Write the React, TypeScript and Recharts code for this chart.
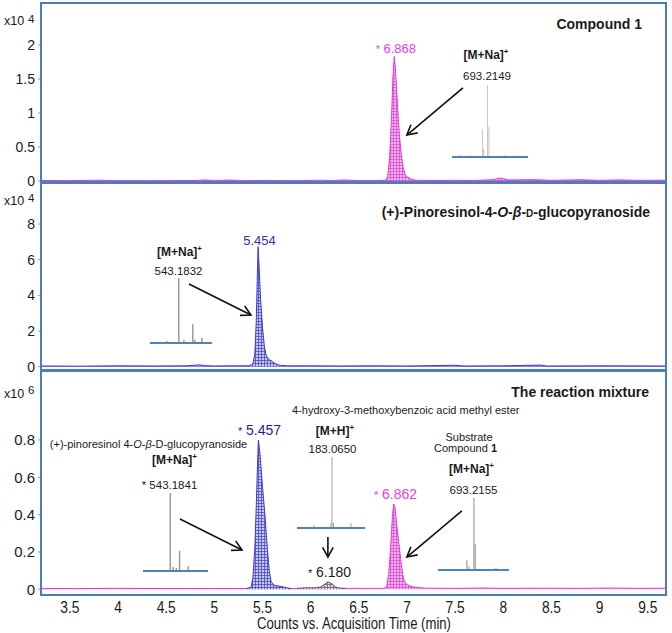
import React from 'react';
import { AreaChart, Area, XAxis, YAxis, ReferenceLine, BarChart, Bar } from 'recharts';

const FONT = "'Liberation Sans', Arial, Helvetica, sans-serif";
const INK = '#1a1a1a';
const PINK = '#e03cd6';
const BLUE = '#3c3cc4';
const FRAME = '#4a7ebb';

const timeDomain: [number, number] = [3.2, 9.7];
const timeTicks = [3.5, 4, 4.5, 5, 5.5, 6, 6.5, 7, 7.5, 8, 8.5, 9, 9.5];

// Panel 1: Compound 1 (x10^4 counts)
const cmp1Time = [3.2, 3.5, 3.85, 3.9, 4.3, 4.8, 4.9, 5.0, 5.15, 5.3, 5.6, 5.9, 6.1, 6.2, 6.35, 6.5, 6.7,
  6.78, 6.8, 6.82, 6.84, 6.855, 6.868, 6.88, 6.9, 6.92, 6.94, 6.96, 6.98, 7.0, 7.03, 7.06, 7.1,
  7.3, 7.5, 7.7, 7.9, 7.97, 8.05, 8.3, 8.5, 8.8, 9.0, 9.2, 9.4, 9.7];
const cmp1Counts = [0.008, 0.006, 0.012, 0.006, 0.005, 0.008, 0.015, 0.008, 0.014, 0.006, 0.008, 0.005, 0.012, 0.006, 0.015, 0.006, 0.006,
  0.012, 0.06, 0.35, 0.95, 1.55, 1.83, 1.65, 1.15, 0.7, 0.4, 0.2, 0.1, 0.06, 0.04, 0.02, 0.01,
  0.008, 0.01, 0.008, 0.02, 0.045, 0.015, 0.02, 0.01, 0.018, 0.01, 0.016, 0.01, 0.012];
const panel1Ticks = [0, 0.5, 1, 1.5, 2];

// Panel 2: (+)-Pinoresinol-4-O-beta-D-glucopyranoside (x10^4 counts)
const pinoTime = [3.2, 3.6, 4.0, 4.4, 4.7, 4.85, 4.9, 5.0, 5.2, 5.36, 5.4, 5.42, 5.435, 5.445, 5.454, 5.465, 5.48, 5.5,
  5.52, 5.54, 5.57, 5.6, 5.64, 5.68, 5.75, 6.0, 6.3, 6.6, 7.0, 7.5, 7.6, 8.0, 8.38, 8.45, 9.0, 9.7];
const pinoCounts = [0.04, 0.03, 0.05, 0.04, 0.05, 0.1, 0.06, 0.04, 0.05, 0.05, 0.15, 0.7, 2.5, 4.8, 6.73, 5.6, 3.8, 2.2,
  1.1, 0.6, 0.4, 0.3, 0.15, 0.08, 0.05, 0.05, 0.04, 0.05, 0.04, 0.08, 0.04, 0.05, 0.09, 0.04, 0.05, 0.04];
const panel2Ticks = [0, 2, 4, 6, 8];

// Panel 3: reaction mixture (x10^6 counts)
const mixPinkTime = [3.2, 3.6, 4.0, 4.5, 5.0, 5.5, 6.0, 6.5, 6.76, 6.79, 6.81, 6.83, 6.85, 6.862, 6.875, 6.895, 6.915,
  6.935, 6.955, 6.975, 7.0, 7.05, 7.1, 7.2, 7.5, 7.8, 8.0, 8.4, 8.8, 9.1, 9.4, 9.7];
const mixPinkCounts = [0.004, 0.004, 0.005, 0.004, 0.004, 0.004, 0.004, 0.005, 0.005, 0.015, 0.08, 0.22, 0.4, 0.457, 0.44, 0.34, 0.25,
  0.16, 0.08, 0.04, 0.025, 0.015, 0.01, 0.006, 0.005, 0.007, 0.005, 0.006, 0.005, 0.007, 0.005, 0.006];
const mixBlueTime = [5.33, 5.38, 5.4, 5.42, 5.435, 5.447, 5.457, 5.475, 5.5, 5.525, 5.55, 5.57, 5.59, 5.62, 5.68, 5.74, 5.8];
const mixBlueCounts = [0.004, 0.01, 0.06, 0.22, 0.44, 0.65, 0.8, 0.72, 0.55, 0.4, 0.22, 0.1, 0.04, 0.022, 0.016, 0.01, 0.003];
const mixGrayTime = [5.86, 5.95, 6.05, 6.1, 6.14, 6.18, 6.22, 6.26, 6.3, 6.36];
const mixGrayCounts = [0.006, 0.008, 0.008, 0.012, 0.025, 0.04, 0.03, 0.012, 0.007, 0.005];
const panel3Ticks = [0, 0.2, 0.4, 0.6, 0.8];

// Inset mass spectra: relative m/z position (0-100) and relative intensity (0-100)
const ms1Pos = [10.5, 23.7, 40.4, 41.2, 47.0, 48.7, 69.7, 83.0];
const ms1Int = [3, 3, 39, 11, 100, 42, 3, 3];
const ms2Pos = [27.4, 46.8, 55.0, 69.4, 72.6, 83.9];
const ms2Int = [3, 100, 5, 29, 5, 8];
const ms3Pos = [41.5, 46.0, 50.8, 55.8, 69.2];
const ms3Int = [100, 5, 4, 26, 6];
const ms4Pos = [25.0, 50.0, 51.5, 53.7, 79.4];
const ms4Int = [4, 7, 100, 7, 7];
const ms5Pos = [40.8, 43.7, 50.7, 52.5, 81.7];
const ms5Int = [14, 5, 100, 36, 3];

const series = (t: number[], v: number[]) => t.map((x, i) => ({ t: x, v: v[i] }));
const cmp1Data = series(cmp1Time, cmp1Counts);
const pinoData = series(pinoTime, pinoCounts);
const mixPinkData = series(mixPinkTime, mixPinkCounts);
const mixBlueData = series(mixBlueTime, mixBlueCounts);
const mixGrayData = series(mixGrayTime, mixGrayCounts);

const ArrowShape = (props: any) => {
  const { x1, y1, x2, y2 } = props;
  if ([x1, y1, x2, y2].some((n) => typeof n !== 'number' || isNaN(n))) return <g />;
  const ang = Math.atan2(y2 - y1, x2 - x1);
  const L = 11;
  const a = 0.5;
  const ax = x2 - L * Math.cos(ang - a);
  const ay = y2 - L * Math.sin(ang - a);
  const bx = x2 - L * Math.cos(ang + a);
  const by = y2 - L * Math.sin(ang + a);
  return (
    <g>
      <line x1={x1} y1={y1} x2={x2} y2={y2} stroke="#111" strokeWidth={1.6} />
      <polyline points={`${ax},${ay} ${x2},${y2} ${bx},${by}`} fill="none" stroke="#111" strokeWidth={1.6} />
    </g>
  );
};

const NarrowTick = (props: any) => {
  const { x, y, payload } = props;
  return (
    <text transform={`translate(${x},${y}) scale(0.86,1)`} textAnchor="middle" dy="0.71em"
      fontSize={16} fill={INK} fontFamily={FONT}>
      {payload.value}
    </text>
  );
};

const Patterns = ({ id }: { id: string }) => (
  <defs>
    <pattern id={`pink-${id}`} width={3} height={3} patternUnits="userSpaceOnUse">
      <rect width={3} height={3} fill="#f8b8ef" />
      <path d="M0 0.5H3M0.5 0V3" stroke="#e04ad6" strokeWidth={0.8} />
    </pattern>
    <pattern id={`blue-${id}`} width={3} height={3} patternUnits="userSpaceOnUse">
      <rect width={3} height={3} fill="#c8c8f4" />
      <path d="M0 0.5H3M0.5 0V3" stroke="#4a4ac8" strokeWidth={0.8} />
    </pattern>
    <pattern id={`gray-${id}`} width={3} height={3} patternUnits="userSpaceOnUse">
      <rect width={3} height={3} fill="#ddd4dd" />
      <path d="M0 0.5H3M0.5 0V3" stroke="#7a5a7a" strokeWidth={0.8} />
    </pattern>
  </defs>
);

const yAxisProps = (domain: [number, number], ticks: number[], fs: number) => ({
  type: 'number' as const,
  domain,
  ticks,
  allowDataOverflow: true,
  width: 41,
  tickSize: 3,
  tickMargin: 3,
  axisLine: false,
  tickLine: { stroke: '#999' },
  interval: 0 as const,
  tick: { fontSize: fs, fill: INK, fontFamily: FONT },
});

const Inset = ({ left, width, base, tall, pos, inten }: any) => {
  const data = pos.map((p: number, i: number) => ({ p, v: inten[i] }));
  return (
    <div style={{ position: 'absolute', left, top: base - tall, width, height: tall + 2 }}>
      <BarChart width={width} height={tall + 2} data={data} margin={{ top: 0, right: 0, bottom: 0, left: 0 }}>
        <XAxis type="number" dataKey="p" domain={[0, 100]} height={2} tick={false} tickLine={false}
          axisLine={{ stroke: '#4f81bd', strokeWidth: 2 }} />
        <YAxis hide domain={[0, 100]} />
        <Bar dataKey="v" fill="#9a9a9a" barSize={1.5} isAnimationActive={false} />
      </BarChart>
    </div>
  );
};

const Sup = ({ children, dy = -5 }: any) => (
  <tspan dy={dy} fontSize={8}>{children}</tspan>
);

export default function App() {
  return (
    <div style={{ position: 'absolute', left: 0, top: 0, width: 672, height: 633, background: '#fff', fontFamily: FONT }}>
      {/* Panel 1 */}
      <div style={{ position: 'absolute', left: 0, top: 0 }}>
        <AreaChart width={672} height={194} margin={{ top: 3, right: 5, bottom: 12, left: 0 }}>
          <Patterns id="a" />
          <XAxis type="number" dataKey="t" domain={timeDomain} allowDataOverflow hide />
          <YAxis {...yAxisProps([-1 / 68, 178 / 68], panel1Ticks, 14)} />
          <Area data={cmp1Data} dataKey="v" type="linear" stroke={PINK} strokeWidth={1} fill="url(#pink-a)"
            fillOpacity={1} isAnimationActive={false} dot={false} activeDot={false} />
          <ReferenceLine segment={[{ x: 7.581, y: 1.368 }, { x: 6.999, y: 0.676 }]} shape={ArrowShape} ifOverflow="visible" />
        </AreaChart>
      </div>
      {/* Panel 2 */}
      <div style={{ position: 'absolute', left: 0, top: 180 }}>
        <AreaChart width={672} height={202} margin={{ top: 3, right: 5, bottom: 12, left: 0 }}>
          <Patterns id="b" />
          <XAxis type="number" dataKey="t" domain={timeDomain} allowDataOverflow hide />
          <YAxis {...yAxisProps([-0.185, 10.297], panel2Ticks, 14)} />
          <Area data={pinoData} dataKey="v" type="linear" stroke={BLUE} strokeWidth={1} fill="url(#blue-b)"
            fillOpacity={1} isAnimationActive={false} dot={false} activeDot={false} />
          <ReferenceLine segment={[{ x: 4.736, y: 4.636 }, { x: 5.38, y: 2.898 }]} shape={ArrowShape} ifOverflow="visible" />
        </AreaChart>
      </div>
      {/* Panel 3 */}
      <div style={{ position: 'absolute', left: 0, top: 368 }}>
        <AreaChart width={672} height={265} margin={{ top: 3, right: 5, bottom: 0, left: 0 }}>
          <Patterns id="c" />
          <XAxis type="number" dataKey="t" domain={timeDomain} ticks={timeTicks} allowDataOverflow interval={0}
            height={38} axisLine={false} tickLine={false} tickSize={6} tickMargin={1}
            tick={<NarrowTick />} />
          <YAxis {...yAxisProps([-0.0305, 1.1699], panel3Ticks, 15)} />
          <Area data={mixPinkData} dataKey="v" type="linear" stroke={PINK} strokeWidth={1} fill="url(#pink-c)"
            fillOpacity={1} isAnimationActive={false} dot={false} activeDot={false} />
          <Area data={mixGrayData} dataKey="v" type="linear" stroke="#6a4a6a" strokeWidth={1} fill="url(#gray-c)"
            fillOpacity={1} isAnimationActive={false} dot={false} activeDot={false} />
          <Area data={mixBlueData} dataKey="v" type="linear" stroke={BLUE} strokeWidth={1} fill="url(#blue-c)"
            fillOpacity={1} isAnimationActive={false} dot={false} activeDot={false} />
          <ReferenceLine segment={[{ x: 4.643, y: 0.377 }, { x: 5.287, y: 0.211 }]} shape={ArrowShape} ifOverflow="visible" />
          <ReferenceLine segment={[{ x: 6.179, y: 0.28 }, { x: 6.179, y: 0.173 }]} shape={ArrowShape} ifOverflow="visible" />
          <ReferenceLine segment={[{ x: 7.57, y: 0.42 }, { x: 6.999, y: 0.173 }]} shape={ArrowShape} ifOverflow="visible" />
        </AreaChart>
      </div>

      {/* Inset mass spectra */}
      <Inset left={452} width={76} base={157} tall={72} pos={ms1Pos} inten={ms1Int} />
      <Inset left={150} width={62} base={343} tall={65} pos={ms2Pos} inten={ms2Int} />
      <Inset left={143} width={65} base={571} tall={78} pos={ms3Pos} inten={ms3Int} />
      <Inset left={297} width={68} base={528} tall={71} pos={ms4Pos} inten={ms4Int} />
      <Inset left={438} width={71} base={570} tall={72} pos={ms5Pos} inten={ms5Int} />

      {/* Panel frames */}
      <div style={{ position: 'absolute', left: 40, top: 2, width: 627, height: 181, border: `2px solid ${FRAME}`, boxSizing: 'border-box' }} />
      <div style={{ position: 'absolute', left: 40, top: 182, width: 627, height: 189, border: `2px solid ${FRAME}`, boxSizing: 'border-box' }} />
      <div style={{ position: 'absolute', left: 40, top: 370, width: 627, height: 226, border: `2px solid ${FRAME}`, boxSizing: 'border-box' }} />

      {/* Annotations */}
      <svg width={672} height={633} style={{ position: 'absolute', left: 0, top: 0, pointerEvents: 'none' }}
        fontFamily={FONT} fill={INK}>
        {/* exponents */}
        <text x={4} y={25} fontSize={12.5}>x10</text>
        <text x={28} y={22.7} fontSize={11.5}>4</text>
        <text x={4} y={205} fontSize={12.5}>x10</text>
        <text x={28} y={202} fontSize={11.5}>4</text>
        <text x={4} y={397.5} fontSize={12.5}>x10</text>
        <text x={28} y={393.5} fontSize={11.5}>6</text>

        {/* Panel 1 */}
        <text x={642} y={29.3} textAnchor="end" fontSize={14} fontWeight="bold">Compound 1</text>
        <text x={396} y={53} textAnchor="middle" fontSize={13} fill="#e63ee6"><tspan fontSize={10}>*</tspan> 6.868</text>
        <text x={486} y={59.3} textAnchor="middle" fontSize={12} fontWeight="bold">[M+Na]<Sup>+</Sup></text>
        <text x={487} y={80} textAnchor="middle" fontSize={11.5}>693.2149</text>

        {/* Panel 2 */}
        <text x={650} y={216.7} textAnchor="end" fontSize={14} fontWeight="bold">
          (+)-Pinoresinol-4-<tspan fontStyle="italic">O</tspan>-<tspan fontStyle="italic">β</tspan>-<tspan fontSize={10}>D</tspan>-glucopyranoside
        </text>
        <text x={259.5} y={244.5} textAnchor="middle" fontSize={13} fill="#2f2fb0">5.454</text>
        <text x={179.5} y={256} textAnchor="middle" fontSize={12} fontWeight="bold">[M+Na]<Sup>+</Sup></text>
        <text x={178.5} y={274.5} textAnchor="middle" fontSize={11.5}>543.1832</text>

        {/* Panel 3 */}
        <text x={649} y={397.3} textAnchor="end" fontSize={14} fontWeight="bold">The reaction mixture</text>
        <text x={148.5} y={448.3} textAnchor="middle" fontSize={11}>
          (+)-pinoresinol 4-<tspan fontStyle="italic">O</tspan>-<tspan fontStyle="italic">β</tspan>-D-glucopyranoside
        </text>
        <text x={174.5} y={464.3} textAnchor="middle" fontSize={12} fontWeight="bold">[M+Na]<Sup>+</Sup></text>
        <text x={169.5} y={489.3} textAnchor="middle" fontSize={11.5}>* 543.1841</text>
        <text x={259.5} y={435} textAnchor="middle" fontSize={14} fill="#1c1ca0"><tspan fontSize={11}>*</tspan> 5.457</text>
        <text x={292} y={414.3} fontSize={11}>4-hydroxy-3-methoxybenzoic acid methyl ester</text>
        <text x={335} y={434.5} textAnchor="middle" fontSize={12} fontWeight="bold">[M+H]<Sup>+</Sup></text>
        <text x={332.5} y={452.7} textAnchor="middle" fontSize={11.5}>183.0650</text>
        <text x={329.5} y={576.7} textAnchor="middle" fontSize={14}><tspan fontSize={11}>*</tspan> 6.180</text>
        <text x={469} y={440.7} textAnchor="middle" fontSize={11}>Substrate</text>
        <text x={465.5} y={452.3} textAnchor="middle" fontSize={11}>Compound <tspan fontWeight="bold">1</tspan></text>
        <text x={471.5} y={473.3} textAnchor="middle" fontSize={12} fontWeight="bold">[M+Na]<Sup>+</Sup></text>
        <text x={473.5} y={494} textAnchor="middle" fontSize={11.5}>693.2155</text>
        <text x={395.5} y={499.3} textAnchor="middle" fontSize={14} fill="#e63ee6"><tspan fontSize={11}>*</tspan> 6.862</text>

        <text x={354} y={629} textAnchor="middle" fontSize={16} textLength={194} lengthAdjust="spacingAndGlyphs">Counts vs. Acquisition Time (min)</text>
      </svg>
    </div>
  );
}
